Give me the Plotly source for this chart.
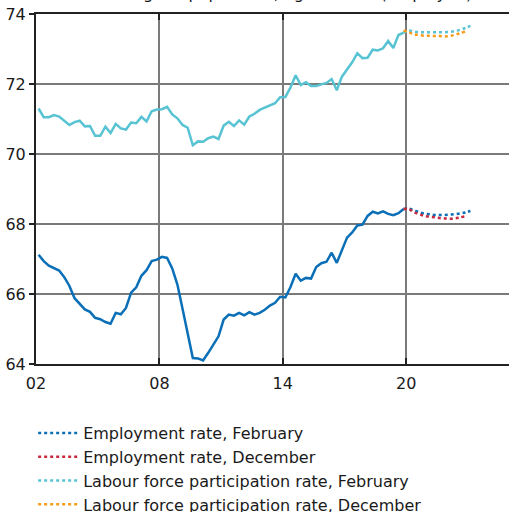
import plotly.graph_objects as go

# ---------------- data (quarterly, 2002Q1 - 2019Q4) ----------------
start_year = 2002
emp_hist = [67.12, 66.94, 66.81, 66.75, 66.67, 66.48, 66.23, 65.88, 65.73, 65.56,
            65.49, 65.32, 65.28, 65.20, 65.15, 65.46, 65.42, 65.60, 66.04, 66.19,
            66.52, 66.68, 66.94, 66.98, 67.06, 67.03, 66.73, 66.27, 65.58, 64.85,
            64.17, 64.16, 64.10, 64.32, 64.57, 64.79, 65.27, 65.41, 65.38, 65.46,
            65.39, 65.48, 65.41, 65.46, 65.55, 65.67, 65.75, 65.92, 65.90, 66.20,
            66.58, 66.38, 66.46, 66.44, 66.77, 66.88, 66.92, 67.18, 66.89, 67.23,
            67.61, 67.76, 67.96, 67.98, 68.23, 68.35, 68.30, 68.36, 68.29, 68.25,
            68.31, 68.43]
lfpr_hist = [71.30, 71.05, 71.05, 71.11, 71.07, 70.94, 70.83, 70.91, 70.95, 70.79,
             70.80, 70.52, 70.52, 70.78, 70.60, 70.86, 70.73, 70.70, 70.90, 70.88,
             71.06, 70.93, 71.22, 71.27, 71.28, 71.35, 71.13, 71.02, 70.83, 70.75,
             70.25, 70.36, 70.35, 70.45, 70.50, 70.43, 70.81, 70.92, 70.80, 70.96,
             70.84, 71.07, 71.15, 71.26, 71.33, 71.40, 71.45, 71.62, 71.63, 71.90,
             72.25, 71.97, 72.05, 71.94, 71.94, 71.99, 72.03, 72.14, 71.82, 72.21,
             72.41, 72.62, 72.88, 72.74, 72.75, 72.98, 72.96, 73.02, 73.23, 73.03,
             73.40, 73.47]

# forecasts (start at last observed quarter)
emp_feb = [68.43, 68.44, 68.39, 68.34, 68.30, 68.28, 68.26, 68.26, 68.26, 68.27,
           68.28, 68.30, 68.33, 68.37]
emp_dec = [68.43, 68.43, 68.33, 68.29, 68.23, 68.21, 68.19, 68.17, 68.16, 68.15,
           68.16, 68.19, 68.22]
lfpr_feb = [73.47, 73.53, 73.50, 73.48, 73.48, 73.48, 73.48, 73.48, 73.48, 73.49,
            73.51, 73.55, 73.60, 73.66]
lfpr_dec = [73.53, 73.48, 73.42, 73.40, 73.38, 73.38, 73.37, 73.37, 73.36, 73.37,
            73.41, 73.45, 73.50]

tick_vals = [2002, 2008, 2014, 2020]
tick_text = ["02", "08", "14", "20"]

series_names = ["Employment rate, February", "Employment rate, December",
                "Labour force participation rate, February",
                "Labour force participation rate, December"]

title_text = "Percentage of population, aged 16-64 (employed)"

# ---------------- build ----------------
def qx(i):
    return start_year + (i + 0.5) / 4.0

n_hist = len(emp_hist)
x_hist = [qx(i) for i in range(n_hist)]

def fx(vals):
    return [qx(n_hist - 1 + j) for j in range(len(vals))]

BLUE = "#0a6fb7"
CYAN = "#57c3d3"
RED = "#c8283c"
ORANGE = "#f59b16"
FONT = "DejaVu Sans"
FS = 16

fig = go.Figure()
fig.add_trace(go.Scatter(x=x_hist, y=lfpr_hist, mode="lines", showlegend=False,
                         line=dict(color=CYAN, width=2.5)))
fig.add_trace(go.Scatter(x=x_hist, y=emp_hist, mode="lines", showlegend=False,
                         line=dict(color=BLUE, width=2.5)))

for vals, name, col in [(emp_feb, series_names[0], BLUE),
                        (emp_dec, series_names[1], RED),
                        (lfpr_feb, series_names[2], CYAN),
                        (lfpr_dec, series_names[3], ORANGE)]:
    fig.add_trace(go.Scatter(x=fx(vals), y=vals, mode="lines", name=name,
                             line=dict(color=col, width=2.5, dash="3px,3px", shape="spline")))

fig.update_layout(
    width=509, height=512,
    margin=dict(l=36, r=0, t=14, b=148, autoexpand=False),
    paper_bgcolor="white", plot_bgcolor="white",
    font=dict(family=FONT, size=FS, color="#1a1a1a"),
    showlegend=True,
    legend=dict(x=-0.006, xanchor="left", y=-0.1486, yanchor="top",
                traceorder="normal", itemwidth=40, font=dict(size=FS),
                bgcolor="rgba(0,0,0,0)", tracegroupgap=0),
    xaxis=dict(range=[2002, 2025], tickvals=tick_vals, ticktext=tick_text,
               showgrid=True, gridcolor="#7a7a7a", gridwidth=1.5,
               showline=True, linecolor="#222", linewidth=2, mirror="ticks",
               ticks="inside", ticklen=6, tickcolor="#222", tickwidth=2,
               zeroline=False, tickfont=dict(size=FS), ticklabelstandoff=4),
    yaxis=dict(range=[64, 74], dtick=2, tick0=64,
               showgrid=True, gridcolor="#7a7a7a", gridwidth=1.5,
               showline=True, linecolor="#222", linewidth=2,
               ticks="outside", ticklen=5, tickcolor="#222", tickwidth=2,
               zeroline=False, tickfont=dict(size=FS)),
    annotations=[dict(text=title_text, xref="paper", yref="paper", x=0.5, y=1.0597,
                      xanchor="center", yanchor="middle", showarrow=False,
                      font=dict(size=FS, color="#1a1a1a"))],
)

fig.write_html("out.html", config={"displayModeBar": False},
               post_script="document.body.style.margin='0';")
